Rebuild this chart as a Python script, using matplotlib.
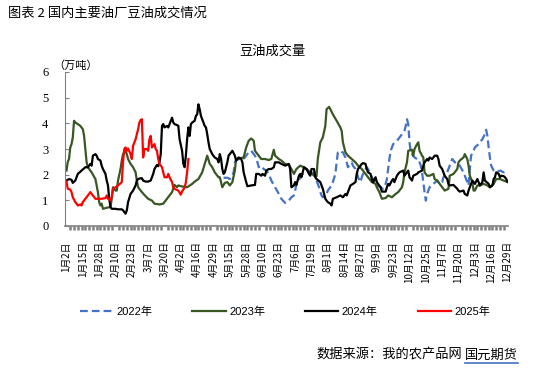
import matplotlib
matplotlib.use("Agg")
import matplotlib.pyplot as plt
from matplotlib.ticker import MultipleLocator

plt.rcParams['font.family'] = ['Noto Sans CJK SC', 'DejaVu Sans']

# x axis: trading-day index, labelled every 13 days
tick_labels = ["1月2日", "1月15日", "1月28日", "2月10日", "2月23日", "3月7日", "3月20日",
               "4月2日", "4月16日", "4月29日", "5月15日", "5月28日", "6月10日", "6月23日",
               "7月6日", "7月19日", "8月1日", "8月14日", "8月27日", "9月9日", "9月23日",
               "10月12日", "10月25日", "11月7日", "11月20日", "12月3日", "12月16日", "12月29日"]
tick_step = 13
n_days = 352

# 2022 (starts in May)
x2022 = [125, 128, 130, 131, 133, 134, 135, 137, 138, 139, 142, 143, 145, 147, 150, 152, 153, 154,
         157, 159, 161, 163, 166, 169, 171, 174, 177, 179, 181, 182, 183, 185, 186, 187, 189, 190,
         191, 193, 194, 195, 197, 198, 199, 201, 202, 203, 204, 206, 207, 208, 210, 211, 212, 214,
         215, 216, 218, 219, 220, 222, 223, 224, 226, 227, 228, 230, 231, 232, 234, 235, 236, 238,
         239, 240, 242, 243, 244, 246, 247, 250, 252, 254, 255, 256, 257, 258, 260, 263, 264, 266,
         268, 269, 270, 271, 272, 273, 274, 276, 277, 279, 280, 281, 282, 283, 284, 285, 286, 287,
         288, 289, 292, 295, 296, 297, 299, 300, 303, 305, 307, 308, 309, 311, 313, 316, 319, 320,
         321, 322, 324, 325, 328, 329, 331, 333, 334, 335, 336, 337, 338, 340, 342, 345, 348, 350]
y2022 = [1.88, 1.88, 1.83, 1.88, 2.09, 2.48, 2.55, 2.61, 2.61, 2.55, 2.67, 2.74, 2.87, 2.93, 2.74, 2.48, 2.29, 2.35,
         2.22, 2.16, 2.03, 1.77, 1.51, 1.25, 1.06, 0.90, 0.99, 1.12, 1.19, 1.38, 1.64, 1.77, 1.90, 1.96, 2.09, 2.16,
         2.22, 2.09, 1.96, 2.03, 2.09, 2.03, 1.77, 1.51, 1.32, 1.19, 1.12, 1.19, 1.25, 1.38, 1.51, 1.58, 1.71, 2.03,
         2.48, 2.87, 2.93, 2.89, 2.87, 2.67, 2.48, 2.29, 2.42, 2.48, 2.35, 2.22, 2.09, 1.90, 1.71, 1.90, 2.03, 2.22,
         2.29, 2.22, 2.03, 1.90, 1.83, 1.71, 1.58, 1.51, 1.45, 1.64, 1.83, 2.22, 2.61, 2.93, 3.19, 3.32, 3.38, 3.51,
         3.64, 3.71, 3.90, 4.16, 3.97, 3.26, 2.87, 2.74, 2.67, 2.61, 2.61, 2.48, 2.35, 2.09, 1.71, 1.32, 0.99, 1.25,
         1.38, 1.51, 1.64, 1.77, 1.71, 1.64, 1.71, 1.90, 2.09, 2.35, 2.61, 2.55, 2.48, 2.48, 2.35, 2.09, 1.71, 1.58,
         2.22, 2.74, 2.93, 3.06, 3.19, 3.26, 3.38, 3.58, 3.75, 3.51, 3.06, 2.67, 2.35, 2.16, 2.09, 2.16, 2.09, 2.16]

x2023 = [0, 1, 2, 3, 4, 5, 6, 7, 9, 11, 13, 14, 15, 16, 17, 20, 23, 24, 25, 26, 27, 28, 29, 32, 35, 36,
         37, 39, 40, 41, 43, 44, 45, 47, 48, 49, 51, 53, 55, 56, 57, 60, 62, 65, 68, 70, 74, 77, 80, 82,
         84, 86, 88, 89, 92, 96, 100, 102, 105, 108, 110, 112, 114, 116, 118, 121, 122, 124, 126, 128,
         130, 132, 134, 135, 138, 141, 143, 145, 147, 149, 150, 153, 155, 158, 161, 163, 165, 166, 169,
         171, 174, 177, 179, 181, 183, 186, 189, 191, 194, 197, 199, 200, 202, 204, 206, 207, 209, 210,
         212, 215, 218, 219, 220, 222, 224, 227, 230, 232, 235, 238, 240, 243, 246, 247, 249, 251, 254,
         256, 259, 262, 264, 267, 268, 269, 271, 272, 275, 276, 277, 279, 280, 281, 283, 284, 285, 287,
         289, 292, 293, 295, 296, 299, 301, 304, 305, 308, 311, 312, 313, 316, 317, 319, 320, 321, 323,
         324, 325, 327, 329, 332, 335, 337, 340, 342, 345, 348, 351]
y2023 = [2.16, 2.50, 2.61, 3.06, 3.19, 3.45, 4.10, 4.03, 3.97, 3.90, 3.77, 3.51, 3.00, 2.48, 2.29, 2.09, 1.83, 1.58,
         1.32, 0.93, 0.80, 0.87, 0.67, 0.71, 0.74, 1.06, 1.51, 1.38, 1.38, 1.77, 2.22, 2.55, 2.80, 2.93, 2.80, 2.61,
         2.42, 2.29, 2.09, 1.77, 1.51, 1.32, 1.21, 1.06, 0.99, 0.87, 0.84, 0.87, 1.06, 1.19, 1.32, 1.60, 1.51, 1.58,
         1.54, 1.51, 1.64, 1.73, 1.83, 2.09, 2.42, 2.74, 2.42, 2.29, 2.09, 1.90, 1.90, 1.51, 1.68, 1.71, 1.58, 1.71,
         2.16, 2.61, 2.64, 2.67, 3.06, 3.32, 3.41, 3.32, 2.93, 2.74, 2.61, 2.61, 2.57, 2.61, 2.97, 2.74, 2.61, 2.55,
         2.42, 2.38, 2.22, 2.03, 2.22, 2.35, 2.29, 2.22, 2.09, 1.96, 1.94, 2.61, 3.26, 3.45, 3.90, 4.55, 4.64, 4.55,
         4.35, 4.10, 3.84, 3.71, 3.26, 2.87, 2.74, 2.61, 2.48, 2.35, 2.22, 2.03, 1.90, 1.71, 1.64, 1.51, 1.32, 1.06,
         1.09, 1.19, 1.12, 1.25, 1.32, 1.51, 1.71, 2.09, 2.48, 2.93, 2.97, 2.74, 3.00, 3.19, 3.26, 2.93, 2.74, 2.67,
         2.09, 1.96, 1.96, 2.03, 1.83, 1.77, 1.71, 1.51, 1.38, 1.45, 1.96, 2.03, 2.22, 2.48, 2.55, 2.67, 2.80, 2.61,
         2.35, 1.96, 1.71, 1.38, 1.38, 1.58, 1.58, 1.64, 1.58, 1.51, 1.64, 1.83, 1.83, 1.77, 1.71]

x2024 = [0, 2, 4, 5, 7, 9, 12, 15, 17, 19, 20, 21, 23, 24, 25, 27, 28, 29, 31, 32, 33, 34, 35, 36, 39,
         41, 44, 45, 47, 48, 49, 51, 53, 55, 56, 57, 59, 60, 61, 63, 65, 67, 68, 69, 70, 72, 73, 74, 75,
         76, 77, 78, 80, 81, 82, 84, 85, 86, 88, 89, 90, 92, 93, 94, 95, 96, 97, 98, 99, 100, 102, 103,
         104, 105, 106, 107, 108, 110, 111, 112, 113, 114, 116, 118, 120, 121, 122, 123, 124, 125, 126,
         128, 129, 131, 132, 134, 135, 136, 137, 139, 140, 141, 143, 144, 147, 150, 151, 153, 155, 156,
         158, 159, 161, 163, 165, 166, 169, 171, 174, 177, 178, 179, 181, 182, 183, 185, 186, 187, 189,
         191, 193, 194, 195, 197, 198, 199, 202, 204, 206, 207, 208, 210, 211, 212, 215, 218, 220, 222,
         223, 224, 226, 228, 230, 231, 232, 234, 235, 236, 238, 239, 240, 242, 243, 244, 246, 247, 248,
         250, 251, 254, 255, 256, 257, 259, 260, 261, 263, 264, 265, 268, 269, 271, 272, 273, 275, 276,
         279, 280, 283, 284, 285, 287, 288, 289, 291, 292, 293, 295, 296, 297, 299, 300, 301, 303, 304,
         305, 308, 311, 312, 313, 316, 317, 319, 320, 321, 323, 324, 325, 327, 328, 329, 331, 332, 333,
         336, 337, 339, 340, 341, 342, 344, 345, 346, 348, 349, 350, 351]
y2024 = [1.77, 1.83, 1.80, 1.68, 1.77, 2.03, 2.16, 2.29, 2.29, 2.42, 2.35, 2.74, 2.80, 2.74, 2.61, 2.55, 2.35, 2.22,
         2.03, 1.77, 1.58, 1.06, 0.74, 0.67, 0.67, 0.65, 0.65, 0.61, 0.48, 0.61, 0.93, 1.25, 1.38, 1.58, 1.77, 1.83,
         1.86, 1.86, 1.77, 1.73, 1.73, 1.77, 1.90, 2.03, 2.22, 2.38, 2.33, 2.48, 2.80, 3.90, 3.97, 3.84, 3.90, 3.84,
         3.97, 4.22, 4.03, 3.97, 3.93, 3.90, 3.38, 2.93, 2.42, 2.29, 2.74, 3.38, 3.84, 3.51, 3.97, 4.03, 4.10, 4.29,
         4.35, 4.74, 4.55, 4.29, 4.16, 3.90, 3.84, 3.58, 3.26, 3.00, 2.80, 2.67, 2.61, 2.48, 2.80, 2.61, 2.22, 2.03,
         2.09, 2.48, 2.74, 2.87, 2.93, 2.74, 2.55, 2.61, 2.67, 2.61, 2.48, 2.09, 1.71, 1.55, 1.58, 1.60, 2.03, 2.03,
         1.96, 2.03, 1.96, 2.16, 2.22, 2.22, 2.29, 2.48, 2.48, 2.42, 2.35, 2.42, 2.22, 1.51, 1.58, 1.71, 1.60, 1.96,
         2.03, 1.90, 2.29, 2.22, 2.03, 1.96, 2.22, 2.22, 1.90, 1.83, 1.71, 1.45, 1.06, 0.99, 0.93, 0.87, 0.80, 1.06,
         1.12, 1.19, 1.12, 1.25, 1.19, 1.32, 1.58, 1.64, 1.71, 2.03, 2.22, 2.35, 2.42, 2.45, 2.42, 2.22, 2.09, 2.03,
         1.83, 1.71, 1.90, 1.71, 1.64, 1.51, 1.34, 1.34, 1.51, 1.64, 1.58, 1.77, 1.83, 1.71, 1.96, 2.03, 2.09, 2.16,
         1.96, 2.09, 2.16, 1.90, 1.77, 1.96, 2.03, 2.09, 2.16, 2.35, 2.48, 2.61, 2.55, 2.67, 2.61, 2.67, 2.74, 2.74,
         2.61, 2.35, 2.22, 2.09, 1.96, 1.83, 1.64, 1.58, 1.60, 1.45, 1.38, 1.34, 1.38, 1.25, 1.19, 1.38, 1.51, 1.77,
         1.71, 1.64, 1.83, 1.71, 1.58, 1.71, 2.09, 1.77, 1.64, 1.51, 1.58, 1.83, 1.90, 2.09, 2.03, 1.90, 1.96, 1.94,
         1.90, 1.83, 1.73]

x2025 = [0, 1, 3, 4, 5, 7, 8, 9, 11, 12, 13, 15, 16, 17, 19, 20, 21, 23, 25, 28, 31, 32, 33, 35, 36, 37,
         39, 41, 44, 45, 46, 47, 48, 49, 51, 52, 53, 55, 56, 57, 58, 59, 60, 61, 62, 64, 65, 66, 67, 68,
         70, 71, 72, 73, 74, 76, 77, 78, 80, 81, 82, 84, 85, 86, 88, 89, 90, 91, 92, 93, 94, 95, 96, 97]
y2025 = [1.73, 1.45, 1.42, 1.32, 1.12, 0.93, 0.87, 0.80, 0.84, 0.80, 0.93, 1.06, 1.12, 1.19, 1.32, 1.25, 1.19, 1.06,
         1.06, 1.06, 1.09, 1.19, 1.06, 1.00, 1.12, 1.45, 1.51, 1.58, 1.71, 2.50, 3.00, 3.06, 2.93, 3.02, 2.80, 2.61,
         3.13, 3.38, 3.58, 3.77, 4.03, 4.13, 4.16, 2.67, 3.00, 3.00, 2.93, 3.38, 3.51, 3.06, 3.19, 3.00, 2.93, 2.61,
         2.42, 2.29, 2.09, 1.90, 1.90, 2.03, 1.90, 1.71, 1.51, 1.45, 1.40, 1.38, 1.30, 1.22, 1.35, 1.42, 1.50, 1.70,
         2.10, 2.61]

W, H = 541, 370
fig = plt.figure(figsize=(W / 100, H / 100), dpi=100)
ax = fig.add_axes([65 / W, 1 - 226 / H, (508 - 65) / W, (226 - 72) / H])

l22, = ax.plot(x2022, y2022, color="#4472C4", lw=1.6, dashes=(3.5, 1.8), label="2022年")
l23, = ax.plot(x2023, y2023, color="#385723", lw=1.6, label="2023年")
l24, = ax.plot(x2024, y2024, color="black", lw=1.6, label="2024年")
l25, = ax.plot(x2025, y2025, color="red", lw=1.6, label="2025年")

ax.set_xlim(-1.2, n_days - 1 + 0.4)
ax.set_ylim(0, 6)

for s in ["top", "right"]:
    ax.spines[s].set_visible(False)
ax.spines["left"].set_color("#808080")
ax.spines["bottom"].set_color("#808080")
ax.spines["bottom"].set_linewidth(1.2)

ax.set_yticks(range(0, 7))
ax.tick_params(axis="y", direction="in", length=3, color="#808080", pad=12, labelsize=9)
for lab in ax.get_yticklabels():
    lab.set_fontfamily("Liberation Serif")

ax.set_xticks(range(0, n_days, tick_step))
ax.set_xticklabels(tick_labels, rotation=90, fontsize=7)
ax.xaxis.set_minor_locator(MultipleLocator(3))
ax.tick_params(axis="x", which="major", length=0, pad=11)
ax.tick_params(axis="x", which="minor", direction="out", length=3, width=1.8, color="#808080")

fig.text(53 / W, 1 - 66 / H, "（万吨）", fontsize=8, ha="left", va="center")
fig.text(272 / W, 1 - 51 / H, "豆油成交量", fontsize=9.5, ha="center", va="center")
fig.text(8 / W, 1 - 13 / H, "图表 2 国内主要油厂豆油成交情况", fontsize=9.5, ha="left", va="center",
         fontweight="medium")

fig.legend(handles=[l22, l23, l24, l25], loc="center", bbox_to_anchor=(285 / W, 1 - 312 / H),
           ncol=4, frameon=False, handlelength=3.0, handletextpad=0.3, columnspacing=3.6,
           prop={"family": ["Liberation Sans", "Noto Sans CJK SC"], "size": 8})

src = fig.text(518 / W, 1 - 355 / H, "国元期货", fontsize=9.5, ha="right", va="center")
fig.canvas.draw()
bb = src.get_window_extent().transformed(fig.transFigure.inverted())
fig.text(bb.x0 - 3 / W, 1 - 355 / H, "数据来源：我的农产品网", fontsize=9.5, ha="right", va="center")
fig.add_artist(plt.Line2D([bb.x0, bb.x1], [bb.y0 - 1 / H, bb.y0 - 1 / H], color="#4472C4", lw=1.2,
                          transform=fig.transFigure))

fig.savefig("out.png", dpi=100)
